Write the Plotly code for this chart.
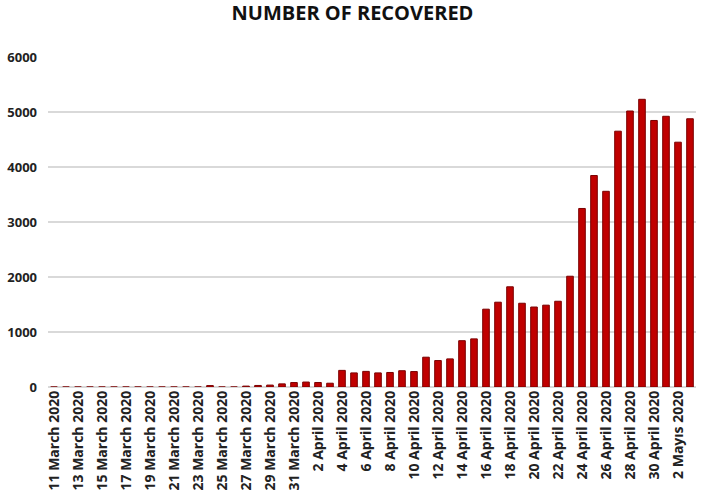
import plotly.graph_objects as go

months = ["March"] * 21 + ["April"] * 30 + ["Mayıs"] * 3
day_nums = list(range(11, 32)) + list(range(1, 31)) + list(range(1, 4))
dates = [f"{d} {m} 2020" for d, m in zip(day_nums, months)]

recovered = [0, 0, 0, 0, 0, 0, 0, 0, 0, 0, 0, 0, 0, 26, 0, 0, 16, 28, 35, 57, 81,
             90, 82, 69, 302, 256, 284, 256, 264, 296, 281, 542, 481, 511, 842, 875,
             1415, 1542, 1822, 1523, 1454, 1488, 1559, 2014, 3246, 3845, 3558, 4651,
             5018, 5231, 4846, 4922, 4451, 4877]

yticks = [0, 1000, 2000, 3000, 4000, 5000, 6000]

fig = go.Figure(go.Bar(
    x=dates, y=recovered,
    marker=dict(color="#C00000", line=dict(color="#7a0000", width=1)),
))

fig.update_layout(
    width=705, height=502,
    title=dict(text="<b>NUMBER OF RECOVERED</b>", x=0.5, y=0.988, xanchor="center",
               font=dict(family="Open Sans", size=20, color="#111")),
    plot_bgcolor="white", paper_bgcolor="white",
    margin=dict(l=48, r=9, t=57, b=115),
    bargap=0.45,
    showlegend=False,
)
fig.update_xaxes(
    tickmode="array", tickvals=dates[::2], ticktext=dates[::2],
    tickangle=-90, tickfont=dict(family="Open Sans", size=14, color="#222", weight="bold"),
    showgrid=False, showline=False, ticks="", automargin=False,
)
fig.update_yaxes(
    range=[0, 6000], tickvals=yticks, showgrid=True, gridcolor="#d9d9d9", gridwidth=1.5,
    zeroline=True, zerolinecolor="#d9d9d9", zerolinewidth=1.5,
    tickfont=dict(family="Open Sans", size=13, color="#222", weight="bold"),
    ticklabelstandoff=10, automargin=False,
)

fig.write_html("out.html", config={"displayModeBar": False},
               post_script="document.body.style.margin='0';")
